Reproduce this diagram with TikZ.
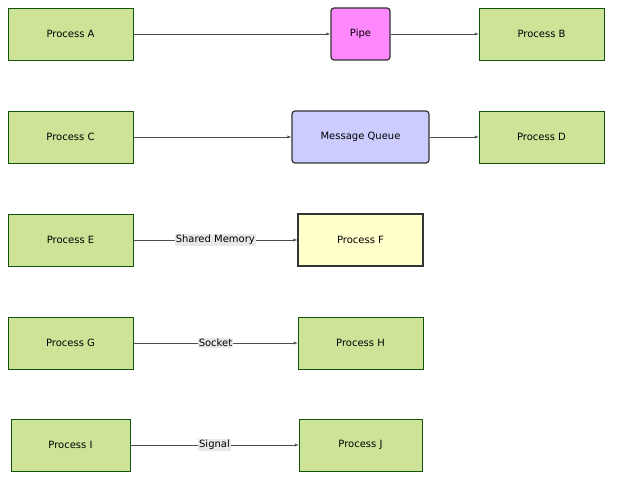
\documentclass[tikz,border=0pt]{standalone}
\usepackage{fontspec}
\setmainfont{DejaVu Sans}
\usetikzlibrary{positioning}
\definecolor{procfill}{HTML}{CDE498}
\definecolor{procline}{HTML}{13540C}
\definecolor{pipefill}{HTML}{FF88FF}
\definecolor{queuefill}{HTML}{CCCCFF}
\definecolor{shmfill}{HTML}{FFFFCC}
\definecolor{lblfill}{HTML}{E8E8E8}
\tikzset{
	proc/.style={
		rectangle, draw=procline, fill=procfill, minimum width=125pt, minimum height=52pt,
		font=\fontsize{10}{12}\selectfont
	}
}

\begin{document}
\begin{tikzpicture}[x=1pt,y=-1pt]
		\tikzstyle{special}=[rectangle, draw=black!80, line width=1.2pt, minimum height=52pt, font=\fontsize{10}{12}\selectfont]
		\tikzstyle{connect}=[draw=black!70, -latex]
		\tikzstyle{lbl}=[fill=lblfill, inner sep=1pt, font=\fontsize{10}{12}\selectfont]
		\useasboundingbox (0,0) rectangle (620,486);
		\node[proc] (a) at (70.5,34) {Process A};
		\node[special, fill=pipefill, rounded corners=3pt, minimum width=59pt] (pipe) at (360.5,34) {Pipe};
		\node[proc] (b) at (541.5,34) {Process B};
		\node[proc] (c) at (70.5,137) {Process C};
		\node[special, fill=queuefill, rounded corners=3pt, minimum width=137pt] (mq) at (360.5,137) {Message Queue};
		\node[proc] (d) at (541.5,137) {Process D};
		\node[proc] (e) at (70.5,240) {Process E};
		\node[special, fill=shmfill, minimum width=125pt] (f) at (360.5,240) {Process F};
		\node[proc] (g) at (70.5,343) {Process G};
		\node[proc] (h) at (360.5,343) {Process H};
		\node[proc, minimum width=119pt] (i) at (70.5,445) {Process I};
		\node[proc, minimum width=123pt] (j) at (360.5,445) {Process J};

		\path
		(a) edge [connect] (pipe)
		(pipe) edge [connect] (b)
		(c) edge [connect] (mq)
		(mq) edge [connect] (d)
		(e) edge [connect] node [lbl] {Shared Memory} (f)
		(g) edge [connect] node [lbl] {Socket} (h)
		(i) edge [connect] node [lbl] {Signal} (j)
		;
\end{tikzpicture}
\end{document}
